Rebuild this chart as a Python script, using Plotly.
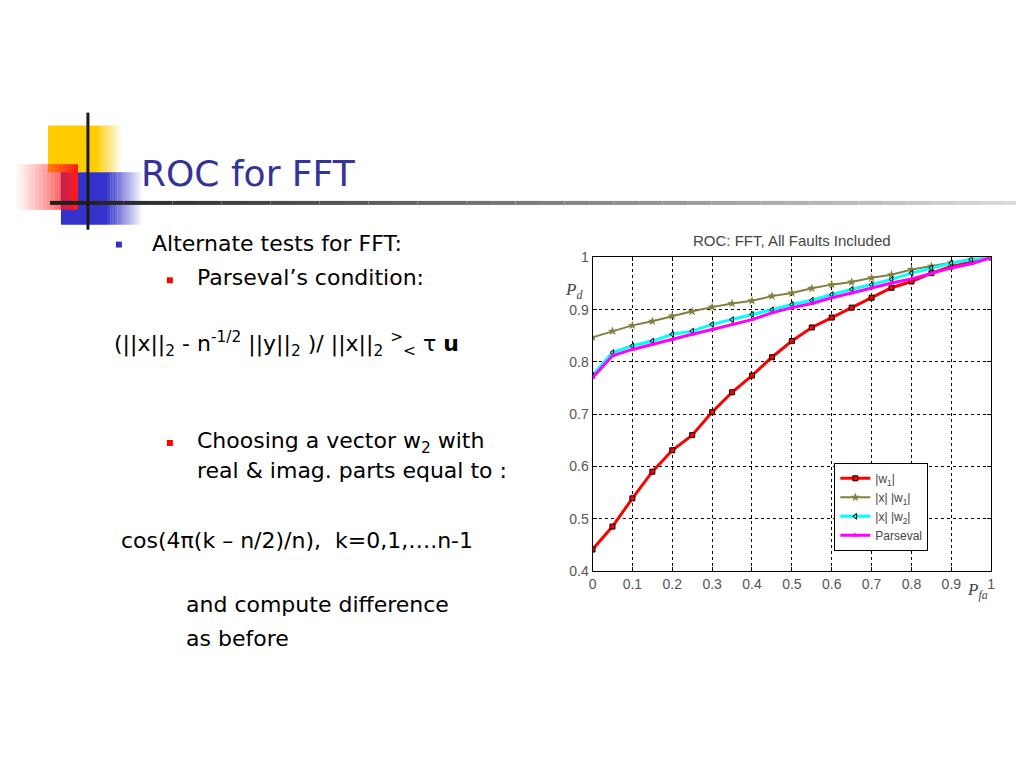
import plotly.graph_objects as go

# ROC curves (x = P_fa, y = P_d)
pfa = [0.0, 0.05, 0.1, 0.15, 0.2, 0.25, 0.3, 0.35, 0.4, 0.45, 0.5,
       0.55, 0.6, 0.65, 0.7, 0.75, 0.8, 0.85, 0.9, 0.95, 1.0]
pd_w1 = [0.441, 0.485, 0.539, 0.590, 0.631, 0.660, 0.704, 0.742, 0.774, 0.809, 0.840,
         0.866, 0.885, 0.904, 0.923, 0.942, 0.954, 0.970, 0.983, 0.992, 1.0]
pd_xw1 = [0.847, 0.859, 0.870, 0.878, 0.888, 0.897, 0.905, 0.912, 0.917, 0.926, 0.932,
          0.941, 0.948, 0.953, 0.961, 0.967, 0.977, 0.983, 0.990, 0.997, 1.0]
pd_xw2 = [0.774, 0.818, 0.831, 0.840, 0.853, 0.859, 0.872, 0.881, 0.891, 0.900, 0.910,
          0.918, 0.929, 0.939, 0.948, 0.958, 0.970, 0.980, 0.989, 0.996, 1.0]
pd_pars = [0.770, 0.812, 0.824, 0.834, 0.843, 0.853, 0.862, 0.872, 0.881, 0.894, 0.904,
           0.912, 0.923, 0.932, 0.942, 0.951, 0.959, 0.970, 0.980, 0.988, 1.0]

x_ticks = [0, 0.1, 0.2, 0.3, 0.4, 0.5, 0.6, 0.7, 0.8, 0.9, 1]
x_tick_text = ['0', '0.1', '0.2', '0.3', '0.4', '0.5', '0.6', '0.7', '0.8', '0.9', '1']
y_ticks = [0.4, 0.5, 0.6, 0.7, 0.8, 0.9, 1]
y_tick_text = ['0.4', '0.5', '0.6', '0.7', '0.8', '0.9', '1']

W, H = 1024, 768


# page pixel -> paper fraction (small correction for how the page gets shot)
def px(x):
    return ((x - 11) / 0.993) / W


def py(y):
    return 1 - ((y - 12.6) / 0.987) / H


fig = go.Figure()
fig.add_trace(go.Scatter(x=pfa, y=pd_w1, name='|w<sub>1</sub>|', mode='lines+markers',
                         line=dict(color='#ff0000', width=3),
                         marker=dict(symbol='square', size=5, color='#ff0000',
                                     line=dict(color='black', width=1))))
fig.add_trace(go.Scatter(x=pfa, y=pd_xw1, name='|x| |w<sub>1</sub>|', mode='lines+markers',
                         line=dict(color='#808040', width=2),
                         marker=dict(symbol='star', size=7, color='#808040')))
fig.add_trace(go.Scatter(x=pfa, y=pd_xw2, name='|x| |w<sub>2</sub>|', mode='lines+markers',
                         line=dict(color='#00ffff', width=3),
                         marker=dict(symbol='triangle-left', size=5, color='#00ffff',
                                     line=dict(color='black', width=1))))
fig.add_trace(go.Scatter(x=pfa, y=pd_pars, name='Parseval', mode='lines+markers',
                         line=dict(color='#ff00ff', width=3),
                         marker=dict(symbol='triangle-up', size=5, color='#ff00ff')))

tick_font = dict(family='Liberation Sans', size=14, color='#555555')
fig.update_xaxes(domain=[px(592), px(991)], range=[0, 1], tickvals=x_ticks, ticktext=x_tick_text,
                 showgrid=True, gridcolor='black', griddash='dot', gridwidth=1,
                 showline=True, linecolor='black', linewidth=1, mirror='ticks',
                 ticks='inside', ticklen=4, tickcolor='black', zeroline=False,
                 tickfont=tick_font)
fig.update_yaxes(domain=[py(572), py(256)], range=[0.4, 1], tickvals=y_ticks, ticktext=y_tick_text,
                 showgrid=True, gridcolor='black', griddash='dot', gridwidth=1,
                 showline=True, linecolor='black', linewidth=1, mirror='ticks',
                 ticks='inside', ticklen=4, tickcolor='black', zeroline=False,
                 tickfont=tick_font)


def rect(x0, x1, y0, y1, color, opacity=1.0, layer='below'):
    return dict(type='rect', xref='paper', yref='paper', x0=px(x0), x1=px(x1),
                y0=py(y1), y1=py(y0), fillcolor=color, opacity=opacity,
                line_width=0, layer=layer)


shapes = []
# yellow block, solid then fading right
shapes.append(rect(47, 97, 123, 170, '#ffcc00'))
for i in range(10):
    shapes.append(rect(97 + i * 2.3, 99.3 + i * 2.3, 123, 170, '#ffcc00', 1 - (i + 1) / 11))
# blue block, fading right
shapes.append(rect(60, 107, 170, 223, '#3333cc'))
for i in range(14):
    shapes.append(rect(107 + i * 2.4, 109.4 + i * 2.4, 170, 223, '#3333cc', 1 - (i + 1) / 15))
# red block, fading towards the left
for i in range(16):
    shapes.append(rect(14 + i * 3.94, 17.94 + i * 3.94, 162, 208, '#ff1a1a', ((i + 1) / 16) ** 1.3))
# horizontal rule, black to light grey
n_seg = 40
for i in range(n_seg):
    g = int(30 + 190 * i / (n_seg - 1))
    x0 = 49 + (1030 - 49) * i / n_seg
    x1 = 49 + (1030 - 49) * (i + 1) / n_seg
    shapes.append(dict(type='line', xref='paper', yref='paper', x0=px(x0), x1=px(x1),
                       y0=py(201), y1=py(201), line=dict(color=f'rgb({g},{g},{g})', width=4),
                       layer='below'))
# vertical rule
shapes.append(dict(type='line', xref='paper', yref='paper', x0=px(87), x1=px(87),
                   y0=py(110), y1=py(228), line=dict(color='#1a1a1a', width=3), layer='below'))
# bullets
shapes.append(rect(115, 121, 240, 246, '#3333cc', layer='above'))
for yb in [279, 443]:
    shapes.append(rect(166, 172, yb - 3, yb + 3, '#ff0000', layer='above'))

body = dict(family='DejaVu Sans', size=22, color='black')
notes = [
    (138, 171, 'ROC for FFT', dict(family='DejaVu Sans', size=36, color='#333399')),
    (149, 242, 'Alternate tests for FFT:', body),
    (194, 276, 'Parseval’s condition:', body),
    (111, 343, '(||x||<sub>2</sub> - n<sup>-1/2</sup> ||y||<sub>2</sub> )/ ||x||<sub>2</sub> '
               '<sup>&gt;</sup><sub>&lt;</sub> τ <b>u</b>', body),
    (194, 443, 'Choosing a vector w<sub>2</sub> with', body),
    (194, 471, 'real &amp; imag. parts equal to :', body),
    (118, 541, 'cos(4π(k – n/2)/n),  k=0,1,….n-1', body),
    (183, 606, 'and compute difference', body),
    (183, 640, 'as before', body),
]
annotations = []
for x, y, t, f in notes:
    annotations.append(dict(x=px(x), y=py(y), xref='paper', yref='paper', text=t, showarrow=False,
                            xanchor='left', yanchor='middle', font=f))
annotations.append(dict(x=px(792), y=py(239), xref='paper', yref='paper',
                        text='ROC: FFT, All Faults Included', showarrow=False,
                        xanchor='center', yanchor='middle',
                        font=dict(family='Liberation Sans', size=15, color='#444444')))
annotations.append(dict(x=px(573), y=py(290), xref='paper', yref='paper',
                        text='<i>P<sub>d</sub></i>', showarrow=False,
                        xanchor='center', yanchor='middle',
                        font=dict(family='Liberation Serif', size=17, color='#444444')))
annotations.append(dict(x=px(977), y=py(592), xref='paper', yref='paper',
                        text='<i>P<sub>fa</sub></i>', showarrow=False,
                        xanchor='center', yanchor='middle',
                        font=dict(family='Liberation Serif', size=17, color='#444444')))

fig.update_layout(
    width=W, height=H, margin=dict(l=0, r=0, t=0, b=0),
    paper_bgcolor='white', plot_bgcolor='white',
    shapes=shapes, annotations=annotations,
    legend=dict(x=px(834), y=py(463), xanchor='left', yanchor='top',
                bgcolor='white', bordercolor='black', borderwidth=1,
                font=dict(family='Liberation Sans', size=12, color='#444444'),
                tracegroupgap=0, itemwidth=30),
)
fig.write_html('out.html')
